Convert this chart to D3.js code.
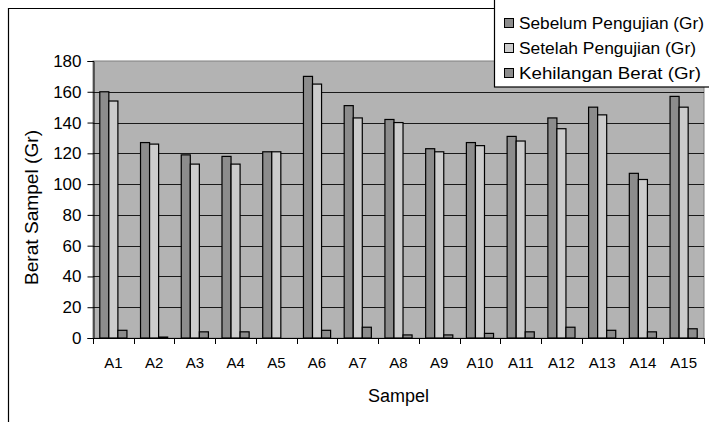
<!DOCTYPE html>
<html><head><meta charset="utf-8">
<script src="https://cdn.jsdelivr.net/npm/d3@7"></script>
<style>body{margin:0;background:#fff}svg{display:block}text{font-family:"Liberation Sans",Arial,sans-serif;fill:#000}</style>
</head><body>
<svg id="c" width="709" height="422"></svg>
<script>
const categories = ["A1","A2","A3","A4","A5","A6","A7","A8","A9","A10","A11","A12","A13","A14","A15"];
const sebelum = [160,127,119,118,121,170,151,142,123,127,131,143,150,107,157];
const setelah = [154,126,113,113,121,165,143,140,121,125,128,136,145,103,150];
const kehilangan = [5,0.6,4,4,0,5,7,2,2,3,4,7,5,4,6];
const seriesNames = ["Sebelum Pengujian (Gr)","Setelah Pengujian (Gr)","Kehilangan Berat (Gr)"];
const seriesColors = ["#8c8c8c","#cccccc","#8c8c8c"];
const yTicks = [0,20,40,60,80,100,120,140,160,180];

const svg = d3.select("#c");
const L = 93, R = 704, T = 61, B = 338;
const FF = "Liberation Sans, Arial, sans-serif";

// outer chart border
svg.append("path").attr("d","M8.5,422V8.5H709").attr("fill","none").attr("stroke","#000").attr("stroke-width",1.2);

const x = d3.scaleBand().domain(categories).range([L,R]).padding(0);
const y = d3.scaleLinear().domain([0,180]).range([B,T]);

// plot area
svg.append("rect").attr("x",L).attr("y",T).attr("width",R-L).attr("height",B-T).attr("fill","#b3b3b3").attr("stroke","#808080");

// gridlines
svg.append("g").selectAll("line").data(yTicks.filter(d=>d>0 && d<180)).join("line")
  .attr("x1",L).attr("x2",R).attr("y1",d=>Math.round(y(d))+0.5).attr("y2",d=>Math.round(y(d))+0.5)
  .attr("stroke","#1a1a1a").attr("stroke-width",1);

// bars
const series = [sebelum, setelah, kehilangan];
const bw = x.step()/4.5;
const g = svg.append("g");
series.forEach((vals,si)=>{
  g.selectAll(null).data(vals.map((v,i)=>({c:categories[i],v}))).join("rect")
    .attr("x",d=>x(d.c)+0.75*bw+si*bw)
    .attr("y",d=>y(d.v))
    .attr("width",bw)
    .attr("height",d=>B-y(d.v))
    .attr("fill",seriesColors[si])
    .attr("stroke",d=>d.v>0?"#000":"none").attr("stroke-width",1.2);
});

// y axis
const ya = svg.append("g").attr("transform",`translate(${L+0.5},0)`)
  .call(d3.axisLeft(y).tickValues(yTicks).tickSize(6).tickPadding(6).tickFormat(d3.format("d")));
ya.select(".domain").attr("stroke","#000");
ya.selectAll(".tick line").attr("stroke","#000");
ya.selectAll(".tick text").attr("font-size",17).attr("font-family",FF).attr("fill","#000");

// x axis
const xa = svg.append("g").attr("transform",`translate(0,${B+0.5})`)
  .call(d3.axisBottom(x).tickSize(0).tickPadding(19));
xa.select(".domain").attr("stroke","#000").attr("d",`M${L},0H${R}`);
xa.selectAll(".tick text").attr("font-size",15).attr("font-family",FF).attr("fill","#000");
// category boundary ticks
svg.append("g").selectAll("line").data(categories.concat(["_end"])).join("line")
  .attr("x1",(d,i)=>Math.round(L+i*x.step())+0.5).attr("x2",(d,i)=>Math.round(L+i*x.step())+0.5)
  .attr("y1",B).attr("y2",B+6).attr("stroke","#000");

// axis titles
svg.append("text").attr("x",(L+R)/2).attr("y",402).attr("text-anchor","middle").attr("font-size",18).text("Sampel");
svg.append("text").attr("transform",`translate(38,${(T+B)/2+8}) rotate(-90)`).attr("text-anchor","middle").attr("font-size",18)
  .attr("textLength",155).attr("lengthAdjust","spacingAndGlyphs").text("Berat Sampel (Gr)");

// legend
const legendWidths = [185,177,182];
const lg = svg.append("g");
lg.append("rect").attr("x",494.5).attr("y",-5).attr("width",230).attr("height",92).attr("fill","#fff").attr("stroke","#000").attr("stroke-width",1.2);
const rows = lg.selectAll("g.row").data(seriesNames).join("g").attr("class","row")
  .attr("transform",(d,i)=>`translate(504,${18+i*25})`);
rows.append("rect").attr("x",0.5).attr("y",0.5).attr("width",9).attr("height",9)
  .attr("fill",(d,i)=>seriesColors[i]).attr("stroke","#000");
rows.append("text").attr("x",15).attr("y",10.5).attr("font-size",16)
  .attr("textLength",(d,i)=>legendWidths[i]).attr("lengthAdjust","spacingAndGlyphs").text(d=>d);
</script>
</body></html>
